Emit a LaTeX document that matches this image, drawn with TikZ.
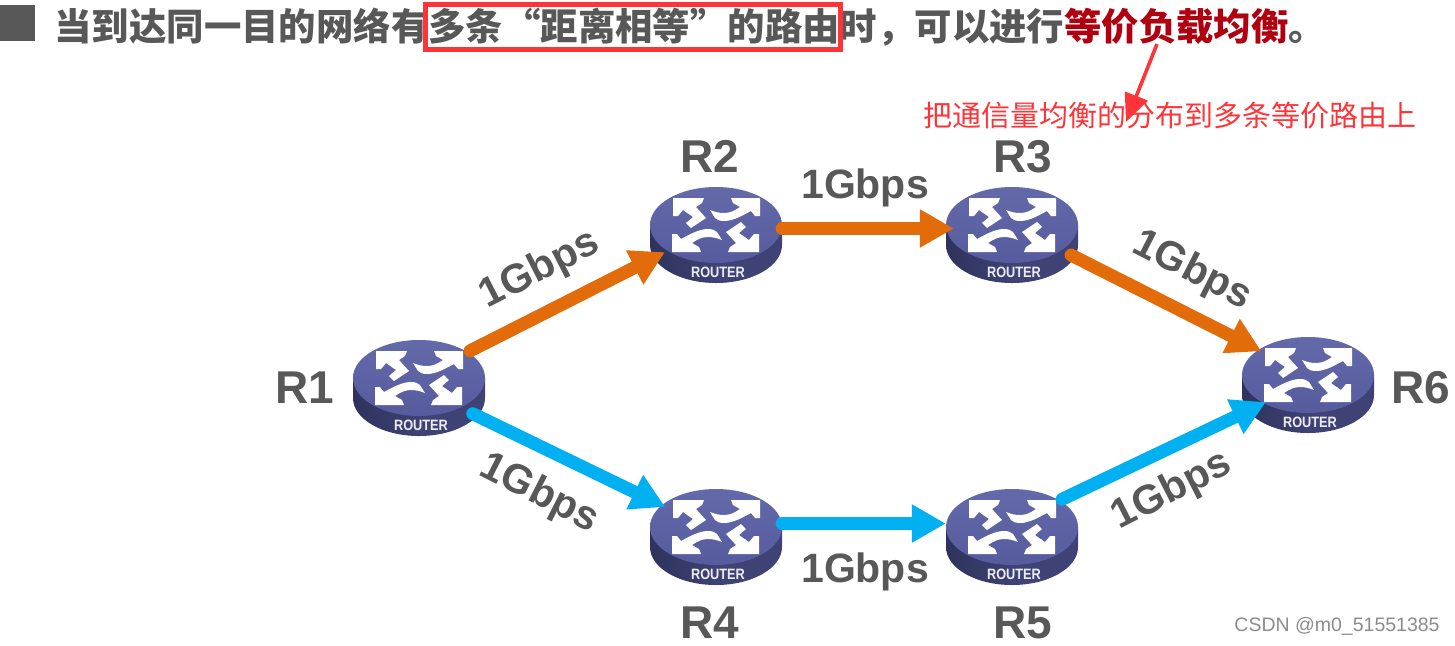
\documentclass[tikz,border=0pt]{standalone}
\usepackage{fontspec}
\setmainfont{Liberation Sans}
\newfontfamily\cjk{Noto Sans CJK SC}
\usetikzlibrary{arrows.meta,shapes.geometric}
\definecolor{textgray}{RGB}{88,88,88}
\definecolor{darkred}{RGB}{176,0,16}
\definecolor{markred}{RGB}{255,52,56}
\definecolor{linkorange}{RGB}{226,108,10}
\definecolor{linkblue}{RGB}{0,176,240}
\definecolor{routertop}{RGB}{86,91,158}
\definecolor{routerlight}{RGB}{100,105,170}
\definecolor{routerside}{RGB}{62,66,116}
\definecolor{routerdark}{RGB}{46,50,92}
\newcommand*{\titletextstyle}{\cjk\bfseries\fontsize{18.7}{18.7}\selectfont\color{textgray}}
\newcommand*{\marktextstyle}{\cjk\fontsize{14.5}{14.5}\selectfont\color{markred}}
\newcommand*{\labeltextstyle}{\bfseries\fontsize{20.5}{20.5}\selectfont\color{textgray}}
\newcommand*{\nametextstyle}{\bfseries\fontsize{23}{23}\selectfont\color{textgray}}
\tikzset{
   routerbody/.style = {ellipse, minimum width = 66pt, minimum height = 42pt, inner sep = 0pt},
   link/.style = {line width = 6.5pt, line cap = round,
      -{Triangle[length = 17pt, width = 18pt]}},
   orangelink/.style = {link, linkorange},
   bluelink/.style = {link, linkblue},
   speed/.style = {font = \labeltextstyle, inner sep = 0pt},
   routername/.style = {font = \nametextstyle, inner sep = 0pt}
}
\newcommand{\routericon}[3]{%
   % node name, centre x, centre y of the top face
   \begin{scope}[shift = {(#2,#3)}]
      \shade[left color = routerdark, right color = routerside, middle color = routerside]
         (-66,0) -- (-66,20) arc (180:0:66 and 38) -- (66,0) -- cycle;
      \shade[top color = routerlight, bottom color = routertop] (0,0) ellipse (66 and 38);
      \foreach \ang in {0,180} {
         \fill[white, rotate = \ang] (-43,-27) -- (-12,-27) -- (-14,-22) -- (-20,-18) -- (-10,-7)
            -- (-25,3) -- (-30,-2) -- (-23,-8) -- (-33,-15) -- (-38,-9) -- (-43,-9) -- cycle;
         \fill[white, rotate = \ang] (44,-27) -- (44,-9) -- (39,-9) -- (35,-14)
            .. controls (24,-8) and (16,-4) .. (8,-4)
            .. controls (4,-4) and (1,-5) .. (-1,-7) -- (-6,-15)
            .. controls (-1,-13) and (3,-12) .. (8,-12)
            .. controls (14,-12) and (18,-14) .. (24,-18) -- (17,-22) -- (15,-27) -- cycle;
      }
      \node[font = \bfseries\fontsize{7.5}{7.5}\selectfont, text = white!90!routerside, inner sep = 0pt,
         xscale = 0.85] (#1text) at (2,47) {ROUTER};
      \node[routerbody] (#1) at (0,0) {};
   \end{scope}
}

\begin{document}
\begin{tikzpicture}[x = 0.5pt, y = -0.5pt]
   \useasboundingbox (0,0) rectangle (1455,645);

   % title
   \fill[textgray] (0,5) rectangle (35,41);
   \node[anchor = west, font = \titletextstyle, inner sep = 0pt] (title) at (54,27)
      {当到达同一目的网络有多条“距离相等”的路由时^^^^ff0c可以进行\textcolor{darkred}{等价负载均衡}。};
   \node[draw = markred, line width = 2.5pt, minimum width = 207.5pt, minimum height = 22.5pt,
      inner sep = 0pt] (markbox) at (633,27) {};

   % remark
   \node[font = \marktextstyle, inner sep = 0pt] (remark) at (1170,116)
      {把通信量均衡的分布到多条等价路由上};
   \coordinate (balance) at (1157,44);
   \coordinate (remarktip) at (1126,122);
   \draw[markred, line width = 1.8pt, -{Triangle[length = 14pt, width = 12pt]}] (balance) -- (remarktip);

   % routers
   \routericon{r1}{419}{378}
   \routericon{r2}{716}{225}
   \routericon{r3}{1012}{225}
   \routericon{r4}{716}{527}
   \routericon{r5}{1012}{527}
   \routericon{r6}{1308}{375}

   \node[routername] (name1) at (305,388) {R1};
   \node[routername] (name2) at (710,156) {R2};
   \node[routername] (name3) at (1023,157) {R3};
   \node[routername] (name4) at (710,623) {R4};
   \node[routername] (name5) at (1023,623) {R5};
   \node[routername] (name6) at (1421,388) {R6};

   % upper path
   \draw[orangelink] (r1.28) -- (r2.208);
   \draw[orangelink, shorten > = -4pt] (r2.-3) -- (r3.183);
   \draw[orangelink, shorten < = 4pt, shorten > = -3pt] (r3.-27) -- (r6.153);

   % lower path
   \draw[bluelink, shorten < = 5pt, shorten > = -3pt] (r1.-35) -- (r4.158);
   \draw[bluelink] (r4.3) -- (r5.177);
   \draw[bluelink, shorten > = -3pt] (r5.29) -- (r6.212);

   \node[speed, rotate = 27] (speed12) at (540,270) {1Gbps};
   \node[speed] (speed23) at (865,188) {1Gbps};
   \node[speed, rotate = -27] (speed36) at (1192,271) {1Gbps};
   \node[speed, rotate = -27] (speed14) at (539,494) {1Gbps};
   \node[speed] (speed45) at (865,572) {1Gbps};
   \node[speed, rotate = 27] (speed56) at (1172,491) {1Gbps};

   % watermark
   \node[font = \fontsize{9.75}{9.75}\selectfont, text = black!45, anchor = east, inner sep = 0pt]
      (mark) at (1440,626) {CSDN @m0\_51551385};
\end{tikzpicture}
\end{document}
